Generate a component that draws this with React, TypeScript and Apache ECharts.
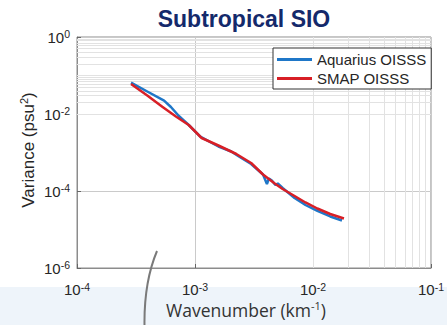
import React, { useEffect, useRef } from "react";
import * as echarts from "echarts";

// Wavenumber (km^-1) and variance (psu^2)
const aquariusK = [2.87e-4, 3.94e-4, 5.47e-4, 6.25e-4, 7.30e-4, 8.85e-4, 1.109e-3, 1.58e-3, 2.03e-3, 2.32e-3, 2.99e-3, 3.77e-3, 4.07e-3, 4.23e-3, 4.48e-3, 4.80e-3, 5.03e-3, 5.53e-3, 6.98e-3, 8.63e-3, 1.089e-2, 1.40e-2, 1.76e-2];
const aquariusVar = [0.065, 0.0384, 0.0222, 0.0152, 0.00887, 0.00518, 0.00257, 0.00143, 0.00106, 8.11e-4, 5.03e-4, 2.68e-4, 1.52e-4, 2.11e-4, 1.87e-4, 1.43e-4, 1.57e-4, 1.20e-4, 6.58e-5, 4.33e-5, 3.03e-5, 2.18e-5, 1.71e-5];

const smapK = [2.87e-4, 3.94e-4, 5.28e-4, 6.89e-4, 8.85e-4, 1.138e-3, 1.58e-3, 2.24e-3, 2.99e-3, 3.77e-3, 4.74e-3, 5.53e-3, 6.98e-3, 8.63e-3, 1.089e-2, 1.40e-2, 1.83e-2];
const smapVar = [0.0601, 0.0303, 0.0155, 0.00861, 0.00518, 0.00238, 0.00152, 9.14e-4, 5.33e-4, 2.68e-4, 1.57e-4, 1.13e-4, 7.41e-5, 5.03e-5, 3.51e-5, 2.53e-5, 1.93e-5];

const seriesNames = ["Aquarius OISSS", "SMAP OISSS"];
const titleText = "Subtropical SIO";
const xMin = 1e-4, xMax = 1e-1;
const yMin = 1e-6, yMax = 1;
const xDecades = [-4, -3, -2];
const yDecades = [-6, -5, -4, -3, -2, -1];
const minorMults = [2, 3, 4, 5, 6, 7, 8, 9];
const yOddDecades = [1e-5, 1e-3, 1e-1];

const FONT = "'Liberation Sans', Arial, Helvetica, sans-serif";
const TXT = "#262626";

export default function App() {
  const ref = useRef<HTMLDivElement>(null);
  useEffect(() => {
    if (!ref.current) return;
    const chart = echarts.init(ref.current, null, { renderer: "svg" });
    const xMinor: number[] = [];
    xDecades.forEach((d) => minorMults.forEach((m) => xMinor.push(m * Math.pow(10, d))));
    const yMinor: number[] = [];
    yDecades.forEach((d) => minorMults.forEach((m) => yMinor.push(m * Math.pow(10, d))));
    yOddDecades.forEach((v) => yMinor.push(v));

    const labelRich = {
      b: { fontSize: 15, lineHeight: 17, color: TXT, fontFamily: FONT },
      s: { fontSize: 10.5, lineHeight: 6, verticalAlign: "top", color: TXT, fontFamily: FONT },
    };
    const fmt = (v: number) => `{b|10}{s|${Math.round(Math.log10(v))}}`;

    chart.setOption({
      animation: false,
      grid: { left: 77, right: 12, top: 37, bottom: 57, show: true, borderColor: "#8c8c8c", borderWidth: 1, backgroundColor: "#ffffff" },
      legend: {
        left: 273,
        top: 48,
        orient: "vertical",
        icon: "rect",
        itemWidth: 35,
        itemHeight: 3,
        itemGap: 2,
        padding: [3, 5, 2, 4],
        borderColor: "#333333",
        borderWidth: 1,
        backgroundColor: "#ffffff",
        textStyle: { fontSize: 15, lineHeight: 17, color: TXT, fontFamily: FONT },
        data: seriesNames,
      },
      xAxis: {
        type: "log",
        logBase: 10,
        min: xMin,
        max: xMax,
        interval: 1,
        axisLine: { show: true, lineStyle: { color: "#8c8c8c" } },
        axisTick: { show: true, inside: true, length: 4, lineStyle: { color: "#666" } },
        axisLabel: { formatter: fmt, rich: labelRich, margin: 13 },
        splitLine: { show: true, lineStyle: { color: "#cacaca", width: 1 } },
      },
      yAxis: {
        type: "log",
        logBase: 10,
        min: yMin,
        max: yMax,
        interval: 2,
        axisLine: { show: true, lineStyle: { color: "#8c8c8c" } },
        axisTick: { show: true, inside: true, length: 4, lineStyle: { color: "#666" } },
        axisLabel: { formatter: fmt, rich: labelRich, margin: 7 },
        splitLine: { show: true, lineStyle: { color: "#cacaca", width: 1 } },
      },
      series: [
        {
          type: "line",
          name: "minor-grid",
          data: [[xMin, yMin]],
          showSymbol: false,
          silent: true,
          z: 1,
          lineStyle: { opacity: 0 },
          markLine: {
            silent: true,
            symbol: ["none", "none"],
            z: 1,
            label: { show: false },
            lineStyle: { type: "solid", color: "#e2e2e2", width: 1 },
            data: [
              ...xMinor.map((v) => ({ xAxis: v })),
              ...yMinor.map((v) => ({ yAxis: v })),
            ],
          },
        },
        {
          type: "line",
          name: seriesNames[0],
          data: aquariusK.map((k, i) => [k, aquariusVar[i]]),
          showSymbol: false,
          z: 3,
          color: "#1f77c8",
          lineStyle: { width: 2.5, color: "#1f77c8" },
        },
        {
          type: "line",
          name: seriesNames[1],
          data: smapK.map((k, i) => [k, smapVar[i]]),
          showSymbol: false,
          z: 4,
          color: "#d81f26",
          lineStyle: { width: 2.5, color: "#d81f26" },
        },
      ],
      graphic: [
        {
          type: "rect",
          z: -10,
          silent: true,
          shape: { x: 0, y: 287, width: 447, height: 38 },
          style: { fill: "#eef4fa" },
        },
        {
          type: "text",
          x: 244,
          y: 19,
          z: 10,
          style: {
            text: titleText,
            fill: "#14296b",
            font: `bold 23px ${FONT}`,
            align: "center",
            verticalAlign: "middle",
          },
        },
        {
          type: "text",
          x: 28,
          y: 150,
          rotation: Math.PI / 2,
          z: 10,
          style: {
            text: "{a|Variance (psu}{s|2}{a|)}",
            align: "center",
            verticalAlign: "middle",
            rich: {
              a: { fontSize: 17, lineHeight: 20, fill: TXT, fontFamily: FONT },
              s: { fontSize: 11, lineHeight: 8, verticalAlign: "top", fill: TXT, fontFamily: FONT },
            },
          },
        },
        {
          type: "text",
          x: 246,
          y: 310,
          z: 10,
          style: {
            text: "{a|Wavenumber (km}{s|-1}{a|)}",
            align: "center",
            verticalAlign: "middle",
            rich: {
              a: { fontSize: 17.5, lineHeight: 20, fill: "#333333", fontFamily: "'Open Sans', 'Noto Sans', sans-serif" },
              s: { fontSize: 11, lineHeight: 8, verticalAlign: "top", fill: "#333333", fontFamily: "'Open Sans', 'Noto Sans', sans-serif" },
            },
          },
        },
        {
          type: "bezierCurve",
          z: 20,
          silent: true,
          shape: { x1: 157, y1: 251, cpx1: 149, cpy1: 270, cpx2: 144, cpy2: 292, x2: 144.5, y2: 326 },
          style: { stroke: "#7a7a7a", lineWidth: 2, fill: "none" },
        },
      ],
    });
    return () => chart.dispose();
  }, []);
  return (
    <div
      ref={ref}
      style={{ position: "absolute", left: 0, top: 0, width: 447, height: 325 }}
    />
  );
}
